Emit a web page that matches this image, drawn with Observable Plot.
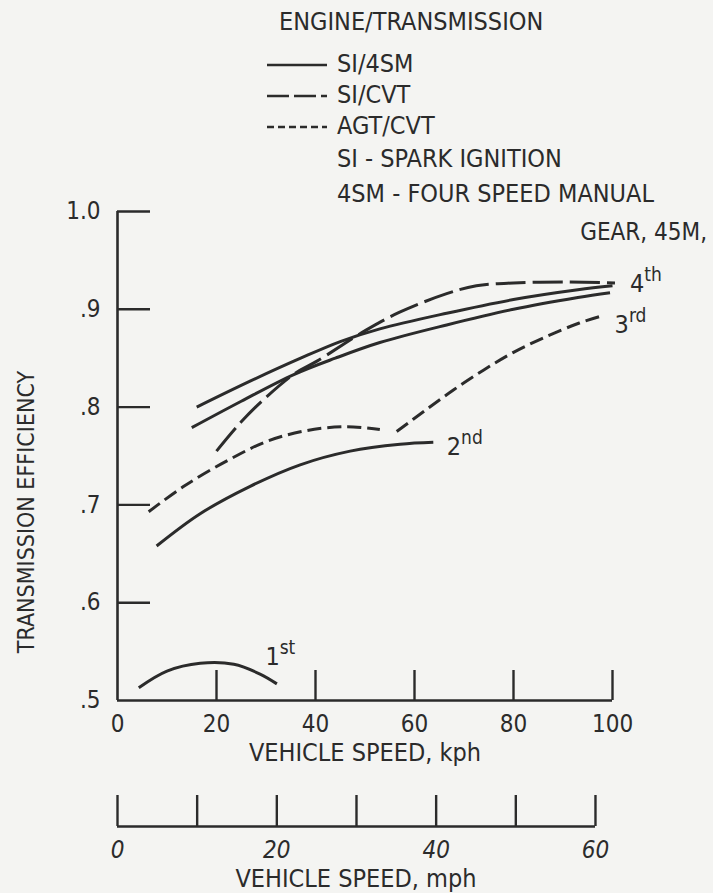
<!DOCTYPE html>
<html><head><meta charset="utf-8">
<script src="https://cdn.jsdelivr.net/npm/d3@7"></script>
<script src="https://cdn.jsdelivr.net/npm/@observablehq/plot@0.6"></script>
<style>
html,body{margin:0;padding:0;background:#f4f4f2;}
#chart{width:713px;height:893px;overflow:hidden;}
#chart svg{display:block;}
</style></head><body><div id="chart"></div>
<script>
// ---------- data ----------
const yTicks = [0.5, 0.6, 0.7, 0.8, 0.9, 1.0];
const yTickLabels = [".5", ".6", ".7", ".8", ".9", "1.0"];
const kphTicks = [0, 20, 40, 60, 80, 100];
const mphTicks = [0, 10, 20, 30, 40, 50, 60];
const mphTickLabels = [0, 20, 40, 60];
const KPH_PER_MPH = 1.609344;

// SI/4SM, by gear  [kph, efficiency]
const gear1 = [[4.3,0.513],[10,0.530],[16.7,0.538],[23.5,0.537],[28.8,0.527],[32.2,0.517]];
const gear2 = [[7.9,0.658],[16.7,0.691],[26.8,0.719],[36.9,0.741],[47,0.755],[57.1,0.762],[63.8,0.764]];
const gear3 = [[15,0.779],[25,0.806],[35.5,0.833],[44,0.850],[53,0.866],[66.5,0.884],[80,0.900],[93,0.912],[99.5,0.917]];
const gear4 = [[16,0.800],[27,0.827],[37,0.850],[45,0.867],[53,0.880],[66.5,0.896],[80,0.910],[93,0.920],[100,0.924]];
// SI/CVT
const siCvt = [[20,0.755],[25,0.785],[30,0.810],[36,0.835],[40.3,0.847],[50.3,0.879],[57,0.897],[66.5,0.916],[72.5,0.924],[80,0.927],[90,0.928],[100.5,0.927]];
// AGT/CVT (two pieces)
const agtCvtA = [[6.3,0.693],[13.4,0.719],[22.1,0.745],[30.2,0.765],[38.2,0.776],[46.3,0.780],[53,0.777]];
const agtCvtB = [[56.4,0.775],[62,0.796],[68,0.818],[74,0.838],[80,0.856],[86.6,0.872],[93.3,0.886],[97.7,0.893]];

const legendRows = ["SI/4SM", "SI/CVT", "AGT/CVT"];
const legendNotes = ["SI - SPARK IGNITION", "4SM - FOUR SPEED MANUAL"];

// ---------- styling ----------
const FONT = '"Liberation Sans Narrow","DejaVu Sans Condensed","Arial Narrow",sans-serif';
const INK = "#2b2b2b";
const DASH = {"SI/4SM": null, "SI/CVT": "30,7", "AGT/CVT": "14,6"};
const LEGEND_DASH = {"SI/4SM": null, "SI/CVT": "22,5", "AGT/CVT": "7,4"};

const series = [
  {name:"1st", type:"SI/4SM", pts:gear1},
  {name:"2nd", type:"SI/4SM", pts:gear2},
  {name:"3rd", type:"SI/4SM", pts:gear3},
  {name:"4th", type:"SI/4SM", pts:gear4},
  {name:"cvt", type:"SI/CVT", pts:siCvt},
  {name:"agtA", type:"AGT/CVT", pts:agtCvtA},
  {name:"agtB", type:"AGT/CVT", pts:agtCvtB}
];
const rows = series.flatMap(s => s.pts.map(([x, y]) => ({x, y, seg: s.name, type: s.type})));

const lineMarks = Object.keys(DASH).map(t =>
  Plot.line(rows.filter(r => r.type === t), {
    x: "x", y: "y", z: "seg", stroke: INK, strokeWidth: 3,
    strokeDasharray: DASH[t], curve: "catmull-rom", strokeLinecap: "butt"
  })
);

const W = 713, ML = 117, MR = 101;
const main = Plot.plot({
  width: W, height: 790,
  marginTop: 211, marginBottom: 90, marginLeft: ML, marginRight: MR,
  style: {background: "transparent", fontFamily: FONT, fontSize: "25px", color: INK, overflow: "visible"},
  x: {domain: [0, 100], axis: null},
  y: {domain: [0.5, 1.0], axis: null},
  marks: [
    Plot.ruleX([0], {stroke: INK, strokeWidth: 2.6}),
    Plot.ruleY([0.5], {stroke: INK, strokeWidth: 2.6}),
    Plot.tickX(kphTicks.filter(d => d > 0), {x: d => d, stroke: INK, strokeWidth: 2.4, insetTop: 459}),
    Plot.tickY(yTicks.filter(d => d > 0.5), {y: d => d, stroke: INK, strokeWidth: 2.4, insetRight: 462}),
    Plot.text(kphTicks, {x: d => d, text: d => String(d), frameAnchor: "bottom", dy: 31, lineAnchor: "bottom", fill: INK, fontSize: 24}),
    Plot.text(yTicks, {y: d => d, text: (d, i) => yTickLabels[i], frameAnchor: "left", dx: -17, textAnchor: "end", fill: INK, fontSize: 24}),
    ...lineMarks,
    Plot.text(["VEHICLE SPEED, kph"], {frameAnchor: "bottom", dy: 60, lineAnchor: "bottom", fill: INK, fontSize: 25}),
    Plot.text(["TRANSMISSION EFFICIENCY"], {frameAnchor: "left", textAnchor: "middle", dx: -91, dy: 56, rotate: -90, fill: INK, fontSize: 23})
  ]
});

const sx = main.scale("x"), sy = main.scale("y");
const g = d3.select(main).append("g")
  .attr("font-family", FONT).attr("font-size", 25).attr("fill", INK)
  .attr("text-anchor", "start");

// legend
g.append("text").attr("x", 279).attr("y", 30).text("ENGINE/TRANSMISSION");
legendRows.forEach((lab, i) => {
  const base = 72 + i * 31;
  g.append("line").attr("x1", 267).attr("x2", 327).attr("y1", base - 7).attr("y2", base - 7)
    .attr("stroke", INK).attr("stroke-width", 2.6)
    .attr("stroke-dasharray", LEGEND_DASH[lab]);
  g.append("text").attr("x", 337).attr("y", base).text(lab);
});
legendNotes.forEach((lab, i) => {
  g.append("text").attr("x", 337).attr("y", 167 + i * 35).text(lab);
});
g.append("text").attr("x", 707).attr("y", 240).attr("text-anchor", "end").attr("font-size", 24).text("GEAR, 45M,");

// gear labels with superscripts, anchored to curve ends
function gearLabel(pt, base, sup, dx, dy) {
  const t = g.append("text").attr("x", sx.apply(pt[0]) + dx).attr("y", sy.apply(pt[1]) + dy);
  t.append("tspan").text(base);
  t.append("tspan").attr("font-size", 19).attr("dy", -11).text(sup);
}
gearLabel(gear4[gear4.length - 1], "4", "th", 18, 7);
gearLabel(agtCvtB[agtCvtB.length - 1], "3", "rd", 14, 17);
gearLabel(gear2[gear2.length - 1], "2", "nd", 14, 13);
gearLabel(gear1[gear1.length - 1], "1", "st", -11, -18);

// mph axis
const mph = Plot.plot({
  width: W, height: 103,
  marginTop: 5, marginBottom: 67, marginLeft: ML, marginRight: MR,
  style: {background: "transparent", fontFamily: FONT, fontSize: "25px", color: INK, overflow: "visible"},
  x: {domain: [0, 100 / KPH_PER_MPH], axis: null},
  y: {domain: [0, 1], axis: null},
  marks: [
    Plot.ruleY([0], {x1: mphTicks[0], x2: mphTicks[mphTicks.length - 1], stroke: INK, strokeWidth: 2.6}),
    Plot.tickX(mphTicks, {x: d => d, stroke: INK, strokeWidth: 2.4}),
    Plot.text(mphTickLabels, {x: d => d, text: d => String(d), frameAnchor: "bottom", dy: 31, lineAnchor: "bottom", fill: INK, fontSize: 24, fontStyle: "italic"}),
    Plot.text(["VEHICLE SPEED, mph"], {frameAnchor: "bottom", dx: -9, dy: 60, lineAnchor: "bottom", fill: INK, fontSize: 25})
  ]
});

const root = document.getElementById("chart");
root.appendChild(main);
root.appendChild(mph);
</script></body></html>
